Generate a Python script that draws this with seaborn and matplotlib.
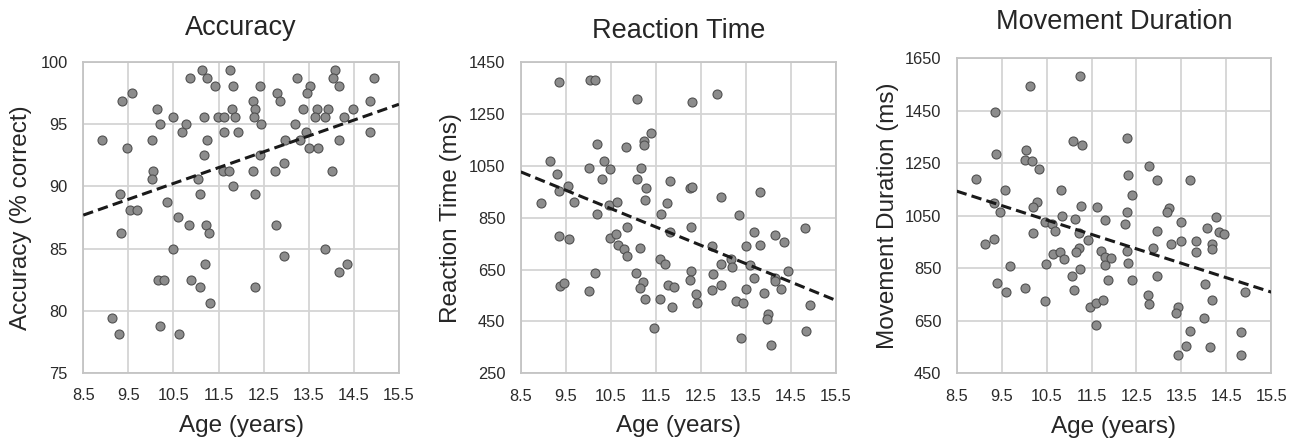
import seaborn as sns
import pandas as pd
import matplotlib.pyplot as plt

# Data
acc_age = [8.92, 9.36, 9.58, 9.46, 9.32, 9.34, 9.54, 9.69, 9.13, 9.30,
           10.14, 10.20, 10.02, 10.05, 10.02, 10.35, 10.49, 10.60, 10.84, 10.49,
           10.15, 10.30, 10.88, 10.20, 10.63, 10.86, 11.14, 11.25, 11.42, 10.69,
           10.78, 11.17, 11.25, 11.17, 11.05, 11.09, 11.23, 11.28, 11.21, 11.09,
           11.30, 11.49, 11.62, 11.63, 11.60, 11.73, 11.81, 11.76, 11.81, 11.80,
           11.87, 11.93, 12.26, 12.31, 12.29, 12.27, 12.31, 12.30, 12.43, 12.42,
           12.42, 12.80, 12.87, 13.23, 13.53, 13.46, 13.37, 13.19, 13.43, 12.98,
           13.30, 13.51, 13.71, 12.75, 12.96, 14.02, 14.09, 14.03, 14.16, 13.69,
           13.93, 13.63, 13.85, 14.29, 14.47, 14.16, 14.95, 14.86, 14.86, 12.78,
           12.96, 13.85, 14.35, 14.17]
acc_val = [93.75, 96.875, 97.5, 93.125, 89.375, 86.25, 88.125, 88.125, 79.375, 78.125,
           96.25, 95.0, 93.75, 91.25, 90.625, 88.75, 95.625, 87.5, 86.875, 85.0,
           82.5, 82.5, 82.5, 78.75, 78.125, 98.75, 99.375, 98.75, 98.125, 94.375,
           95.0, 95.625, 93.75, 92.5, 90.625, 89.375, 86.875, 86.25, 83.75, 81.875,
           80.625, 95.625, 95.625, 94.375, 91.25, 91.25, 90.0, 99.375, 98.125, 96.25,
           95.625, 94.375, 96.875, 96.25, 95.625, 91.25, 89.375, 81.875, 95.0, 98.125,
           92.5, 97.5, 96.875, 98.75, 98.125, 97.5, 96.25, 95.0, 94.375, 93.75,
           93.75, 93.125, 93.125, 91.25, 91.875, 91.25, 99.375, 98.75, 98.125, 96.25,
           96.25, 95.625, 95.625, 95.625, 96.25, 93.75, 98.75, 96.875, 94.375, 86.875,
           84.375, 85.0, 83.75, 83.125]

rt_age = [9.34, 10.03, 10.16, 11.08, 11.40, 11.23, 11.23, 10.83, 10.20, 9.14,
          10.01, 10.35, 10.49, 10.30, 9.31, 9.36, 9.55, 8.95, 9.69, 10.20,
          10.46, 10.63, 11.09, 11.17, 11.29, 11.25, 11.82, 11.74, 11.61, 11.82,
          9.34, 9.58, 10.49, 10.61, 10.67, 10.79, 10.86, 10.86, 11.14, 11.59,
          11.70, 11.05, 11.22, 11.14, 11.25, 11.60, 11.77, 11.90, 11.86, 10.16,
          10.01, 9.37, 9.46, 11.46, 12.30, 12.85, 12.26, 12.31, 12.96, 13.82,
          13.35, 12.28, 12.76, 12.95, 12.78, 12.29, 12.25, 12.40, 12.41, 12.74,
          12.94, 13.17, 13.20, 13.51, 13.60, 13.69, 13.82, 14.14, 14.34, 13.68,
          13.51, 13.28, 13.43, 13.91, 14.14, 14.16, 14.28, 14.44, 14.00, 13.98,
          13.40, 14.07, 14.82, 14.93, 14.83]
rt_val = [1373, 1382, 1382, 1310, 1177, 1147, 1132, 1125, 1134, 1069,
          1044, 1069, 1038, 1001, 1020, 954, 972, 906, 910, 864,
          900, 910, 999, 1042, 964, 919, 992, 906, 864, 797,
          781, 768, 774, 788, 745, 731, 703, 816, 735, 690,
          671, 638, 602, 578, 537, 537, 590, 583, 505, 638,
          566, 588, 599, 426, 1298, 1329, 966, 969, 932, 948,
          860, 815, 743, 671, 632, 645, 609, 556, 523, 572,
          590, 691, 660, 741, 668, 797, 747, 783, 758, 618,
          577, 528, 520, 560, 619, 606, 577, 646, 479, 458,
          388, 361, 811, 514, 415]

md_age = [8.94, 9.36, 9.37, 9.33, 9.46, 9.57, 9.14, 9.32, 9.69, 9.40,
          9.60, 10.14, 10.05, 10.03, 10.17, 10.34, 10.29, 10.20, 10.20, 10.01,
          10.49, 10.47, 10.46, 10.63, 10.69, 10.85, 10.83, 10.64, 10.80, 10.89,
          11.25, 11.08, 11.29, 11.14, 11.27, 11.22, 11.23, 11.15, 11.42, 11.25,
          11.06, 11.12, 11.63, 11.81, 11.72, 11.80, 11.93, 11.81, 11.86, 11.47,
          11.60, 11.75, 11.61, 12.30, 12.77, 12.31, 12.96, 13.68, 12.41, 13.22,
          13.18, 12.28, 12.24, 13.50, 14.27, 14.07, 14.34, 14.45, 12.96, 13.27,
          13.50, 13.82, 13.83, 14.17, 14.17, 12.86, 12.30, 12.31, 12.39, 12.96,
          12.76, 12.78, 13.43, 13.37, 14.03, 14.17, 14.00, 13.69, 13.60, 13.42,
          14.13, 14.92, 14.83, 14.83]
md_val = [1192, 1444, 1287, 1098, 1065, 1150, 943, 963, 858, 793,
          761, 1545, 1301, 1263, 1260, 1230, 1101, 1084, 985, 775,
          867, 727, 1028, 1020, 992, 1048, 1150, 905, 911, 884,
          1581, 1335, 1319, 1037, 1089, 983, 929, 914, 958, 846,
          820, 769, 1082, 1033, 917, 892, 891, 864, 804, 702,
          716, 731, 633, 1348, 1240, 1207, 1185, 1185, 1128, 1080,
          1065, 1065, 1018, 1027, 1047, 1004, 988, 981, 991, 943,
          955, 953, 912, 943, 922, 927, 916, 872, 807, 822,
          748, 713, 704, 681, 792, 729, 660, 610, 554, 519,
          550, 759, 608, 519]

x_ticks = [8.5, 9.5, 10.5, 11.5, 12.5, 13.5, 14.5, 15.5]

sns.set_theme(style="whitegrid")
plt.rcParams['font.family'] = ['Liberation Sans', 'DejaVu Sans']
plt.rcParams['text.color'] = '#262626'

fig = plt.figure(figsize=(12.97, 4.42), dpi=100)

panels = [
    # (ages, values, title, ylabel, yticks, axes rect, title pad, ylabel x)
    (acc_age, acc_val, 'Accuracy', 'Accuracy (% correct)', [75, 80, 85, 90, 95, 100],
     [0.0642, 0.1568, 0.2434, 0.7023], 20, -0.162),
    (rt_age, rt_val, 'Reaction Time', 'Reaction Time (ms)', [250, 450, 650, 850, 1050, 1250, 1450],
     [0.4015, 0.1554, 0.2429, 0.7036], 17.5, -0.186),
    (md_age, md_val, 'Movement Duration', 'Movement Duration (ms)', [450, 650, 850, 1050, 1250, 1450, 1650],
     [0.7376, 0.1554, 0.2426, 0.7127], 21, -0.183),
]

for ages, vals, title, ylabel, yticks, rect, tpad, ylx in panels:
    ax = fig.add_axes(rect)
    df = pd.DataFrame({'age': ages, 'value': vals})
    ax.set_xlim(x_ticks[0], x_ticks[-1])
    ax.set_ylim(yticks[0], yticks[-1])
    sns.scatterplot(data=df, x='age', y='value', ax=ax, s=42, color='#8c8c8c',
                    edgecolor='#505050', linewidth=0.8, zorder=3)
    sns.regplot(data=df, x='age', y='value', ax=ax, scatter=False, ci=None, truncate=False,
                line_kws=dict(color='#1a1a1a', linestyle=(0, (3.4, 1.7)), linewidth=2.2, zorder=4))
    ax.set_xlim(x_ticks[0], x_ticks[-1])
    ax.set_ylim(yticks[0], yticks[-1])
    ax.set_xticks(x_ticks)
    ax.set_xticklabels([f'{t:g}' for t in x_ticks])
    ax.set_yticks(yticks)
    ax.grid(True, color='#d4d4d4', linewidth=1.3)
    for sp in ax.spines.values():
        sp.set_color('#c4c4c4')
        sp.set_linewidth(1.3)
    ax.tick_params(length=0, labelsize=11.8, labelcolor='#2a2a2a', pad=11)
    ax.set_title(title, fontsize=19.5, pad=tpad, color='#262626')
    ax.set_xlabel('Age (years)', fontsize=17.5, color='#262626')
    ax.set_ylabel(ylabel, fontsize=17.5, color='#262626')
    ax.xaxis.set_label_coords(0.5, -0.135)
    ax.yaxis.set_label_coords(ylx, 0.5)

fig.savefig('out.png', dpi=100)
